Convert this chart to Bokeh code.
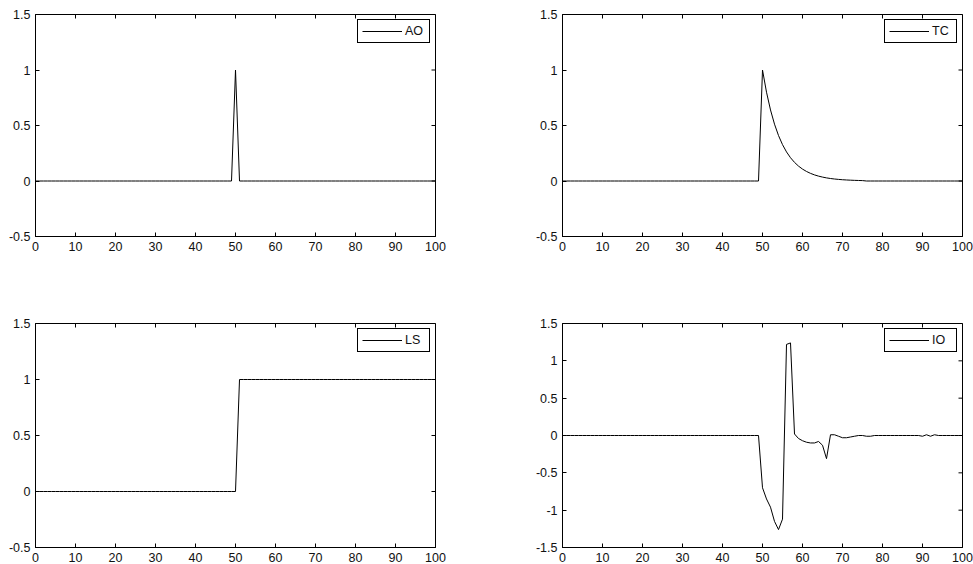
import math
from bokeh.plotting import figure
from bokeh.models import (Range1d, FixedTicker, Legend, LegendItem,
                          CustomJSTickFormatter)
from bokeh.layouts import column, row
from bokeh.embed import file_html
from bokeh.resources import INLINE

# ---------------- data ----------------
t = list(range(0, 101))
xticks = [0, 10, 20, 30, 40, 50, 60, 70, 80, 90, 100]
yticks_small = [-0.5, 0, 0.5, 1, 1.5]
yticks_io = [-1.5, -1, -0.5, 0, 0.5, 1, 1.5]

ao = [0.0] * 50 + [1.0] + [0.0] * 50

tc = [0.0] * 50 + [1.0, 0.8, 0.64, 0.512, 0.4096, 0.3277, 0.2621, 0.2097, 0.1678,
                   0.1342, 0.1074, 0.0859, 0.0687, 0.0550, 0.0440, 0.0352, 0.0281,
                   0.0225, 0.0180, 0.0144, 0.0115, 0.0092, 0.0074, 0.0059, 0.0047,
                   0.0038] + [0.0] * 25

ls = [0.0] * 51 + [1.0] * 50

io = [0.0] * 50 + [
    -0.70, -0.85, -0.96, -1.15, -1.26, -1.12, 1.22, 1.24, 0.02, -0.04,
    -0.07, -0.09, -0.10, -0.10, -0.08, -0.13, -0.31, 0.01, 0.01, -0.01,
    -0.03, -0.03, -0.02, -0.01, 0.00, 0.00, -0.01, -0.01, 0.00, 0.00,
    0.00, 0.00, 0.00, 0.00, 0.00, 0.00, 0.00, 0.00, 0.00, 0.00,
    -0.01, 0.01, -0.01, 0.01, 0.00, 0.00, 0.00, 0.00, 0.00, 0.00,
    0.00]

FONT = "Liberation Sans"
FS = "12.5px"


def style_axis(ax, ticks):
    ax.ticker = FixedTicker(ticks=ticks)
    ax.formatter = CustomJSTickFormatter(code="return tick.toString();")
    ax.major_tick_in = 4
    ax.major_tick_out = 0
    ax.minor_tick_in = 0
    ax.minor_tick_out = 0
    ax.axis_line_color = "black"
    ax.major_tick_line_color = "black"
    ax.major_label_text_font = FONT
    ax.major_label_text_color = "#111111"
    ax.major_label_text_font_size = FS
    ax.major_label_standoff = 5


def make_fig(y, label, yticks, ylim, width, height, bl, br, bt, bb):
    p = figure(width=width, height=height, x_range=Range1d(0, 100),
               y_range=Range1d(*ylim), output_backend="svg",
               toolbar_location=None, min_border_left=bl, min_border_right=br,
               min_border_top=bt, min_border_bottom=bb)
    p.xgrid.visible = False
    p.ygrid.visible = False
    p.outline_line_color = "black"
    p.outline_line_alpha = 1.0
    p.background_fill_color = "white"
    p.border_fill_color = "white"
    r = p.line(t, y, line_color="black", line_width=1)
    style_axis(p.xaxis[0], xticks)
    style_axis(p.yaxis[0], yticks)
    # inward tick marks on the top and right edges of the box (clipped to frame)
    p.scatter(x=xticks, y=[ylim[1]] * len(xticks), marker="dash",
              angle=math.pi / 2, size=8, line_color="black", line_width=1)
    p.scatter(x=[100] * len(yticks), y=yticks, marker="dash",
              size=8, line_color="black", line_width=1)
    leg = Legend(items=[LegendItem(label=label, renderers=[r])],
                 location="top_right", margin=5, padding=4, spacing=0,
                 glyph_width=40, glyph_height=12, label_height=12,
                 label_standoff=3, border_line_color="black",
                 border_line_width=1, border_line_alpha=1.0,
                 background_fill_color="white", background_fill_alpha=1.0,
                 label_text_font=FONT, label_text_font_size=FS,
                 label_text_color="#111111")
    p.add_layout(leg)
    return p


p1 = make_fig(ao, "AO", yticks_small, (-0.5, 1.5), 492, 287, 35, 57, 14, 51)
p2 = make_fig(tc, "TC", yticks_small, (-0.5, 1.5), 481, 287, 70, 11, 14, 51)
p3 = make_fig(ls, "LS", yticks_small, (-0.5, 1.5), 492, 277, 35, 57, 36, 17)
p4 = make_fig(io, "IO", yticks_io, (-1.5, 1.5), 481, 277, 70, 11, 36, 17)

layout = column(row(p1, p2), row(p3, p4))
open("out.html", "w").write(file_html(layout, INLINE))
